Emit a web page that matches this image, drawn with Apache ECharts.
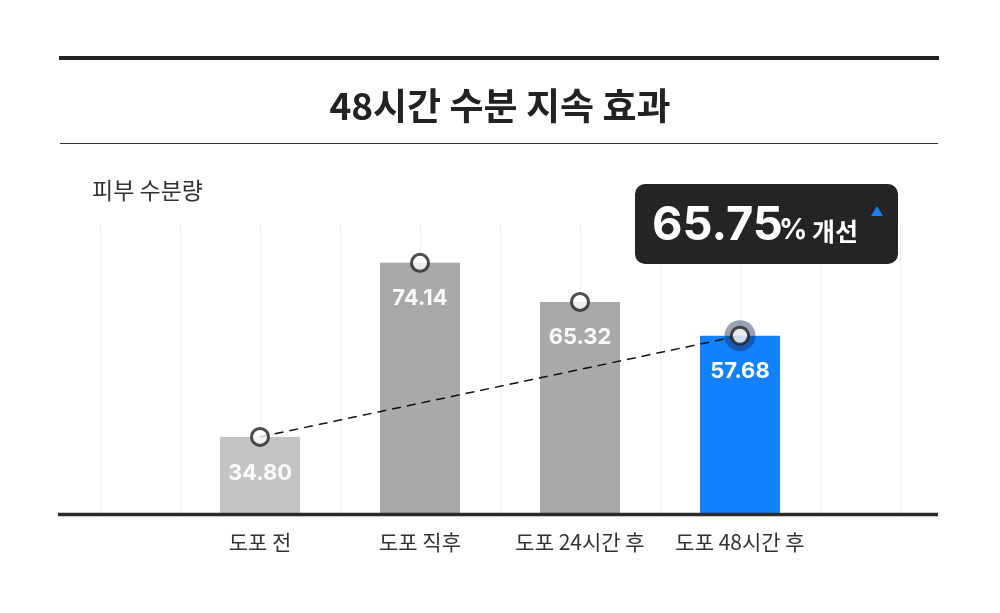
<!DOCTYPE html>
<html>
<head>
<meta charset="utf-8">
<script src="https://cdn.jsdelivr.net/npm/echarts@6/dist/echarts.min.js"></script>
<style>html,body{margin:0;padding:0;background:#fff}#c{width:1000px;height:613px}</style>
</head>
<body>
<div id="c"></div>
<script>
const titleText = '48시간 수분 지속 효과';
const yName = '피부 수분량';
const categories = ['도포 전', '도포 직후', '도포 24시간 후', '도포 48시간 후'];
const values = [34.80, 74.14, 65.32, 57.68];
const barColors = ['#c4c4c4', '#a9a9a9', '#a9a9a9', '#1182fb'];
const gridTicks = [0, 1, 2, 3, 4, 5, 6, 7, 8, 9, 10];

const first = values[0], last = values[values.length - 1];
const improve = ((last - first) / first * 100).toFixed(2);

const KR = '"Noto Sans CJK KR", "Noto Sans", sans-serif';
const NUM = 'Inter, Roboto, "Noto Sans", sans-serif';

const chart = echarts.init(document.getElementById('c'), null, {renderer: 'canvas'});
const lineData = values.map((v, i) => (i === 0 || i === values.length - 1) ? v : '-');
const haloData = values.map((v, i) => i === values.length - 1 ? v : '-');

chart.setOption({
  animation: false,
  backgroundColor: '#fff',
  title: {
    text: titleText, left: 'center', top: 81,
    textStyle: {fontFamily: KR, fontSize: 37, fontWeight: 'bold', color: '#222', lineHeight: 40}
  },
  grid: [
    {left: 180, right: 180, top: 225, bottom: 100},
    {left: 100, right: 100, top: 225, bottom: 100}
  ],
  xAxis: [
    {
      type: 'category', data: categories, gridIndex: 0,
      axisLine: {show: false}, axisTick: {show: false},
      axisLabel: {interval: 0, margin: 19, fontFamily: KR, fontSize: 21, color: '#333'},
      splitLine: {show: false}
    },
    {
      type: 'value', gridIndex: 1, min: gridTicks[0], max: gridTicks[gridTicks.length - 1], interval: 1,
      axisLine: {show: false}, axisTick: {show: false}, axisLabel: {show: false},
      splitLine: {show: true, lineStyle: {color: '#efefef', width: 1}}
    }
  ],
  yAxis: [
    {type: 'value', gridIndex: 0, min: 17.6, max: 82.7, show: false},
    {type: 'value', gridIndex: 1, min: 0, max: 1, show: false}
  ],
  series: [
    {
      type: 'bar', xAxisIndex: 0, yAxisIndex: 0, barWidth: 80, z: 2,
      data: values.map((v, i) => ({value: v, itemStyle: {color: barColors[i]}})),
      label: {
        show: true, position: 'insideTop', distance: 25,
        formatter: p => p.value.toFixed(2),
        fontFamily: NUM, fontSize: 22, fontWeight: 'bold', color: '#fafafa'
      }
    },
    {
      type: 'line', xAxisIndex: 0, yAxisIndex: 0, data: lineData, connectNulls: true,
      showSymbol: false, symbol: 'none', z: 3,
      lineStyle: {color: '#111', width: 1.5, type: [9, 6]}
    },
    {
      type: 'scatter', xAxisIndex: 0, yAxisIndex: 0, data: haloData, symbol: 'circle',
      symbolSize: 31, z: 4, itemStyle: {color: 'rgba(22,42,85,0.55)'}
    },
    {
      type: 'scatter', xAxisIndex: 0, yAxisIndex: 0, data: values, symbol: 'circle',
      symbolSize: 17, z: 5, itemStyle: {color: '#fff', borderColor: '#222', borderWidth: 3}
    }
  ],
  graphic: [
    {type: 'line', shape: {x1: 59, y1: 58, x2: 939, y2: 58}, style: {stroke: '#222', lineWidth: 4}},
    {type: 'line', shape: {x1: 60, y1: 143.5, x2: 938, y2: 143.5}, style: {stroke: '#333', lineWidth: 1}},
    {type: 'line', shape: {x1: 58, y1: 514.5, x2: 938, y2: 514.5}, style: {stroke: '#2a2a2a', lineWidth: 3.5}, z: 10},
    {type: 'text', x: 92, y: 190, style: {text: yName, font: '23px ' + KR, fill: '#333', textVerticalAlign: 'middle'}},
    {type: 'rect', shape: {x: 635, y: 184, width: 263, height: 80, r: 10}, style: {fill: '#242424'}, z: 20},
    {type: 'text', x: 652, y: 226, z: 21, style: {text: improve, font: 'bold 47px ' + NUM, fill: '#fff', textVerticalAlign: 'middle'}},
    {type: 'text', x: 779, y: 231, z: 21, style: {text: '%', font: 'bold 28px ' + NUM, fill: '#fff', textVerticalAlign: 'middle'}},
    {type: 'text', x: 812, y: 231, z: 21, style: {text: '개선', font: 'bold 25px ' + KR, fill: '#fff', textVerticalAlign: 'middle'}},
    {type: 'polygon', shape: {points: [[871, 216], [883, 216], [877, 206]]}, style: {fill: '#1a7ff0'}, z: 21}
  ]
});
</script>
</body>
</html>
